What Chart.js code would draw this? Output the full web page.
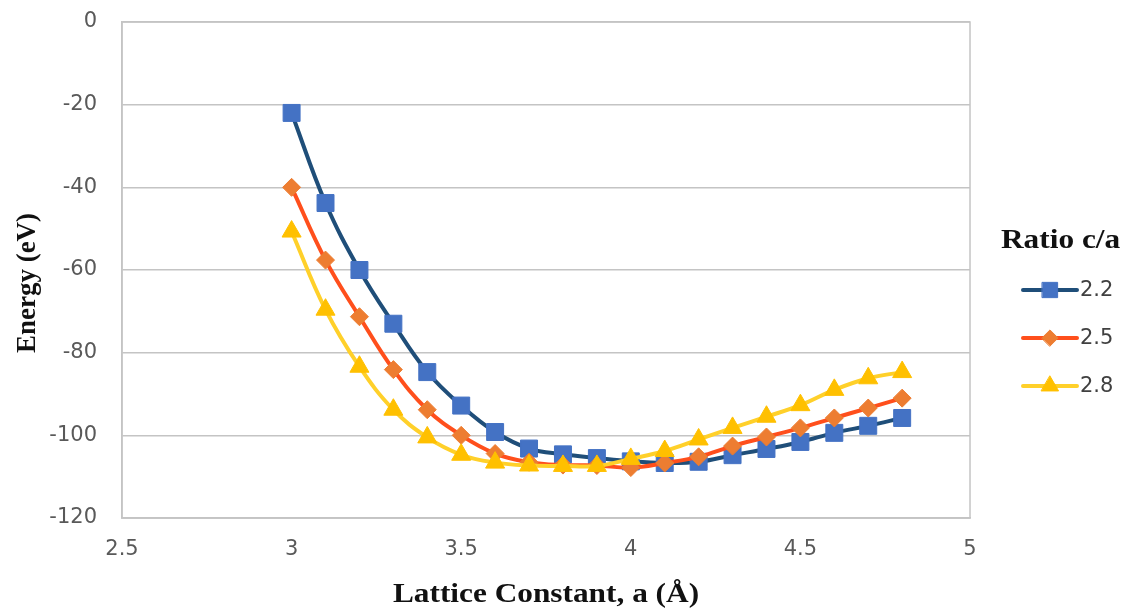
<!DOCTYPE html>
<html>
<head>
<meta charset="utf-8">
<script src="https://cdn.jsdelivr.net/npm/chart.js@4.4.1/dist/chart.umd.min.js"></script>
<style>
  html, body { margin: 0; padding: 0; background: #fff; }
  #wrap { width: 1123px; height: 609px; }
</style>
</head>
<body>
<div id="wrap"><canvas id="chart" width="1123" height="609"></canvas></div>
<script>
// lattice constant a (Å)
const latticeA = [3.0, 3.1, 3.2, 3.3, 3.4, 3.5, 3.6, 3.7, 3.8, 3.9, 4.0, 4.1, 4.2, 4.3, 4.4, 4.5, 4.6, 4.7, 4.8];
// energy (eV) for each c/a ratio
const energy22 = [-22.0, -43.8, -60.0, -73.0, -84.7, -92.8, -99.2, -103.2, -104.6, -105.5, -106.3, -106.7, -106.4, -104.8, -103.3, -101.6, -99.4, -97.7, -95.8];
const energy25 = [-40.0, -57.6, -71.3, -84.1, -93.8, -100.0, -104.4, -106.5, -107.2, -107.3, -107.8, -106.7, -105.2, -102.6, -100.4, -98.2, -95.8, -93.4, -91.0];
const energy28 = [-50.7, -69.6, -83.4, -93.8, -100.5, -104.7, -106.6, -107.3, -107.4, -107.4, -105.7, -103.8, -101.0, -98.2, -95.5, -92.7, -89.0, -86.2, -84.7];
const ratioLabels = ['2.2', '2.5', '2.8'];
const yTicks = [0, -20, -40, -60, -80, -100, -120];

const toPoints = ys => ys.map((y, i) => ({ x: latticeA[i], y: y }));

const series = [
    { label: ratioLabels[0], data: toPoints(energy22), line: '#1f4e79', fill: '#4472c4', style: 'rect', radius: 12, order: 3 },
    { label: ratioLabels[1], data: toPoints(energy25), line: '#ff4f1c', fill: '#ed7d31', style: 'rectRot', radius: 9, order: 2 },
    { label: ratioLabels[2], data: toPoints(energy28), line: '#ffd02a', fill: '#ffc000', style: 'triangle', radius: 11, order: 1 }
];

const STRETCH = 1.16; // the reference title text is a bit wide

function wideText(ctx, text, x, y) {
    ctx.save();
    ctx.translate(x, y);
    ctx.scale(STRETCH, 1);
    ctx.fillText(text, 0, 0);
    ctx.restore();
}

// axis titles, legend and plot frame
const extras = {
    id: 'extras',
    afterDraw(chart) {
        const ctx = chart.ctx;
        const a = chart.chartArea;
        ctx.save();
        ctx.strokeStyle = '#c4c4c4';
        ctx.lineWidth = 1.5;
        ctx.strokeRect(a.left, a.top, a.right - a.left, a.bottom - a.top);

        ctx.fillStyle = '#111';
        ctx.textBaseline = 'middle';
        ctx.textAlign = 'center';
        ctx.font = 'bold 27px "Liberation Serif"';
        wideText(ctx, 'Lattice Constant, a (Å)', (a.left + a.right) / 2, 595);
        ctx.save();
        ctx.translate(28, 283);
        ctx.rotate(-Math.PI / 2);
        ctx.fillText('Energy (eV)', 0, 0);
        ctx.restore();

        ctx.textAlign = 'left';
        wideText(ctx, 'Ratio c/a', 1001, 241);
        series.forEach((s, i) => {
            const y = 290 + i * 48;
            ctx.strokeStyle = s.line;
            ctx.lineWidth = 4;
            ctx.lineCap = 'round';
            ctx.beginPath();
            ctx.moveTo(1023, y);
            ctx.lineTo(1077, y);
            ctx.stroke();
            ctx.fillStyle = s.fill;
            ctx.strokeStyle = s.fill;
            ctx.lineWidth = 1;
            Chart.helpers.drawPoint(ctx, { pointStyle: s.style, radius: s.radius * 0.9, rotation: 0, borderWidth: 1 }, 1050, y);
            ctx.fillStyle = '#404040';
            ctx.font = '21px "DejaVu Sans"';
            ctx.fillText(s.label, 1080, y + 1);
        });
        ctx.restore();
    }
};

const tickFont = { family: 'DejaVu Sans', size: 21 };

new Chart(document.getElementById('chart'), {
    type: 'line',
    data: {
        datasets: series.map(s => ({
            label: s.label,
            data: s.data,
            borderColor: s.line,
            borderWidth: 4,
            backgroundColor: s.fill,
            pointBackgroundColor: s.fill,
            pointBorderColor: s.fill,
            pointBorderWidth: 1,
            pointStyle: s.style,
            pointRadius: s.radius,
            tension: 0.4,
            order: s.order
        }))
    },
    options: {
        responsive: false,
        animation: false,
        layout: { padding: { top: 22, right: 153, left: 0, bottom: 0 } },
        plugins: { legend: { display: false }, tooltip: { enabled: false } },
        scales: {
            x: {
                type: 'linear',
                min: 2.5,
                max: 5,
                afterFit: s => { s.height = 91; s.paddingLeft = 0; s.paddingRight = 0; },
                ticks: { stepSize: 0.5, padding: 19, color: '#595959', font: tickFont, callback: v => String(v) },
                grid: { display: false, drawTicks: false },
                border: { display: true, color: '#c4c4c4', width: 1.5 }
            },
            y: {
                min: -120,
                max: 0,
                afterFit: s => { s.width = 122; s.paddingTop = 0; s.paddingBottom = 0; },
                afterBuildTicks: s => { s.ticks = yTicks.map(v => ({ value: v })); },
                ticks: { padding: 25, color: '#595959', font: tickFont },
                grid: { color: '#c4c4c4', lineWidth: 1.5, drawTicks: false },
                border: { display: true, color: '#c4c4c4', width: 1.5 }
            }
        }
    },
    plugins: [extras]
});
</script>
</body>
</html>
